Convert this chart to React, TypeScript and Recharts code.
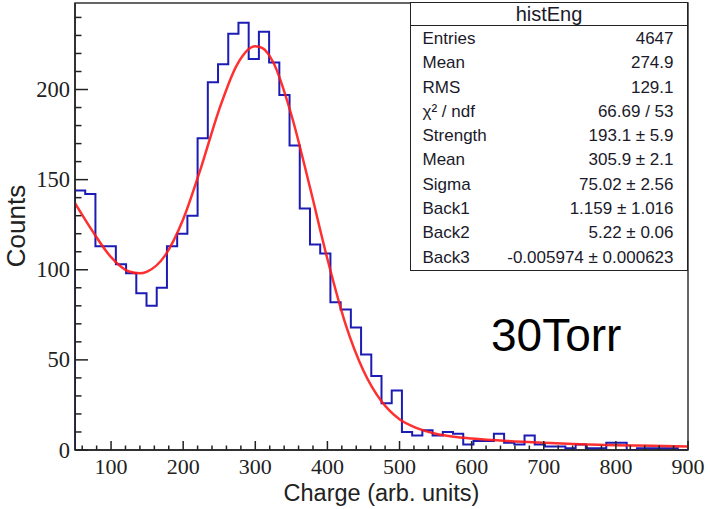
import React from 'react';
import { ComposedChart, Line, XAxis, YAxis, ReferenceArea } from 'recharts';

// histogram: 60 bins between 50 and 900
const BIN_START = 50;
const BIN_END = 900;
const COUNTS = [
  144, 142, 113, 113, 103, 98, 87, 80, 90, 113,
  120, 130, 173, 204, 214, 231, 237, 217, 232, 215,
  197, 169, 134, 114, 109, 82, 78, 68, 53, 41,
  26, 33, 10, 8, 11, 8, 10, 9, 3, 5,
  5, 9, 4, 3, 8, 3, 2, 2, 1, 3,
  1, 1, 4, 4, 0, 1, 1, 1, 1, 0,
];

// fit curve
const FIT_X = [50, 75, 100, 125, 140, 150, 175, 200, 225, 250, 275, 300, 310, 325, 350, 375, 400, 425, 450, 475, 500, 525, 550, 575, 600, 650, 700, 750, 800, 850, 900];
const FIT_Y = [137, 121, 107, 99, 98, 99, 108, 128, 157, 189, 214, 224, 223, 215, 186, 147, 106, 70, 44, 27, 17, 12, 9, 7.4, 6.4, 5, 4, 3.2, 2.7, 2.3, 2];

const X_TICKS = [60, 80, 100, 120, 140, 160, 180, 200, 220, 240, 260, 280, 300, 320, 340, 360, 380, 400, 420, 440, 460, 480, 500, 520, 540, 560, 580, 600, 620, 640, 660, 680, 700, 720, 740, 760, 780, 800, 820, 840, 860, 880, 900];
const X_LABELS = [100, 200, 300, 400, 500, 600, 700, 800, 900];
const Y_TICKS = [0, 10, 20, 30, 40, 50, 60, 70, 80, 90, 100, 110, 120, 130, 140, 150, 160, 170, 180, 190, 200, 210, 220, 230, 240];
const Y_LABELS = [0, 50, 100, 150, 200];

const STATS_TITLE = 'histEng';
const STAT_NAMES = ['Entries', 'Mean', 'RMS', 'χ² / ndf', 'Strength', 'Mean', 'Sigma', 'Back1', 'Back2', 'Back3'];
const STAT_VALUES = ['4647', '274.9', '129.1', '66.69 / 53', '193.1 ± 5.9', '305.9 ± 2.1', '75.02 ± 2.56', '1.159 ± 1.016', '5.22 ± 0.06', '-0.005974 ± 0.000623'];

const X_TITLE = 'Charge (arb. units)';
const Y_TITLE = 'Counts';
const NOTE = '30Torr';

const binWidth = (BIN_END - BIN_START) / COUNTS.length;
const histData = [
  { x: BIN_START, y: 0 },
  ...COUNTS.map((c, i) => ({ x: BIN_START + i * binWidth, y: c })),
  { x: BIN_END, y: COUNTS[COUNTS.length - 1] },
];
const fitData = FIT_X.map((x, i) => ({ x, y: FIT_Y[i] }));

const SERIF = '"Liberation Serif", "Times New Roman", serif';
const SANS = '"Liberation Sans", Arial, sans-serif';
const INK = '#222';

function XTick(props: any) {
  const { x, y, payload } = props;
  const major = X_LABELS.includes(payload.value);
  return (
    <g>
      <line x1={x} x2={x} y1={y} y2={y - (major ? 9 : 4.5)} stroke={INK} strokeWidth={1.5} />
      {major && (
        <text x={x} y={y + 24} textAnchor="middle" fontFamily={SERIF} fontSize={22} fill={INK}>
          {payload.value}
        </text>
      )}
    </g>
  );
}

function YTick(props: any) {
  const { x, y, payload } = props;
  const major = Y_LABELS.includes(payload.value);
  return (
    <g>
      <line x1={x} x2={x + (major ? 13 : 6.5)} y1={y} y2={y} stroke={INK} strokeWidth={1.5} />
      {major && (
        <text x={x - 5} y={y + 7.5} textAnchor="end" fontFamily={SERIF} fontSize={22.5} fill={INK}>
          {payload.value}
        </text>
      )}
    </g>
  );
}

export default function App() {
  return (
    <div style={{ position: 'absolute', left: 0, top: 0, width: 710, height: 509, background: '#fff' }}>
      <ComposedChart
        width={710}
        height={509}
        margin={{ top: 3, right: 22, bottom: 0, left: 0 }}
      >
        <XAxis
          dataKey="x"
          type="number"
          domain={[BIN_START, BIN_END]}
          allowDataOverflow
          ticks={X_TICKS}
          interval={0}
          tick={<XTick />}
          tickLine={false}
          tickSize={0}
          tickMargin={0}
          height={59}
          axisLine={{ stroke: INK, strokeWidth: 1.5 }}
        />
        <YAxis
          type="number"
          domain={[0, 248]}
          allowDataOverflow
          ticks={Y_TICKS}
          interval={0}
          tick={<YTick />}
          tickLine={false}
          tickSize={0}
          tickMargin={0}
          width={75}
          axisLine={{ stroke: INK, strokeWidth: 1.5 }}
        />
        <ReferenceArea x1={BIN_START} x2={BIN_END} y1={0} y2={248} fill="none" stroke="#333" strokeWidth={1.5} />
        <Line
          data={histData}
          dataKey="y"
          type="stepAfter"
          stroke="#1c1cb4"
          strokeWidth={2}
          dot={false}
          activeDot={false}
          isAnimationActive={false}
        />
        <Line
          data={fitData}
          dataKey="y"
          type="monotone"
          stroke="#ff1a1a"
          strokeOpacity={0.9}
          strokeWidth={2.5}
          dot={false}
          activeDot={false}
          isAnimationActive={false}
        />
      </ComposedChart>

      <div
        style={{
          position: 'absolute', left: 410, top: 2, width: 278, height: 269,
          border: `1.5px solid ${INK}`, boxSizing: 'border-box', background: '#fff',
          fontFamily: SANS, color: '#1a1a2a',
        }}
      >
        <div style={{ height: 22, borderBottom: `1.5px solid ${INK}`, textAlign: 'center', fontSize: 20, lineHeight: '22px' }}>
          {STATS_TITLE}
        </div>
        <div style={{ padding: '1px 13.5px 0 11.5px' }}>
          {STAT_NAMES.map((name, i) => (
            <div key={i} style={{ display: 'flex', justifyContent: 'space-between', height: 24.3, lineHeight: '24.3px', fontSize: 17 }}>
              <span>{name}</span>
              <span>{STAT_VALUES[i]}</span>
            </div>
          ))}
        </div>
      </div>

      <div style={{ position: 'absolute', left: 491, top: 310, fontFamily: SANS, fontSize: 46, lineHeight: '50px', color: '#000' }}>
        {NOTE}
      </div>

      <div style={{ position: 'absolute', left: 75, width: 613, top: 483.5, textAlign: 'center', fontFamily: SANS, fontSize: 23.5, lineHeight: '18px', color: INK }}>
        {X_TITLE}
      </div>

      <div
        style={{
          position: 'absolute', left: 16, top: 226, transform: 'translate(-50%, -50%) rotate(-90deg)',
          whiteSpace: 'nowrap', fontFamily: SANS, fontSize: 26, lineHeight: '30px', color: INK,
        }}
      >
        {Y_TITLE}
      </div>
    </div>
  );
}
